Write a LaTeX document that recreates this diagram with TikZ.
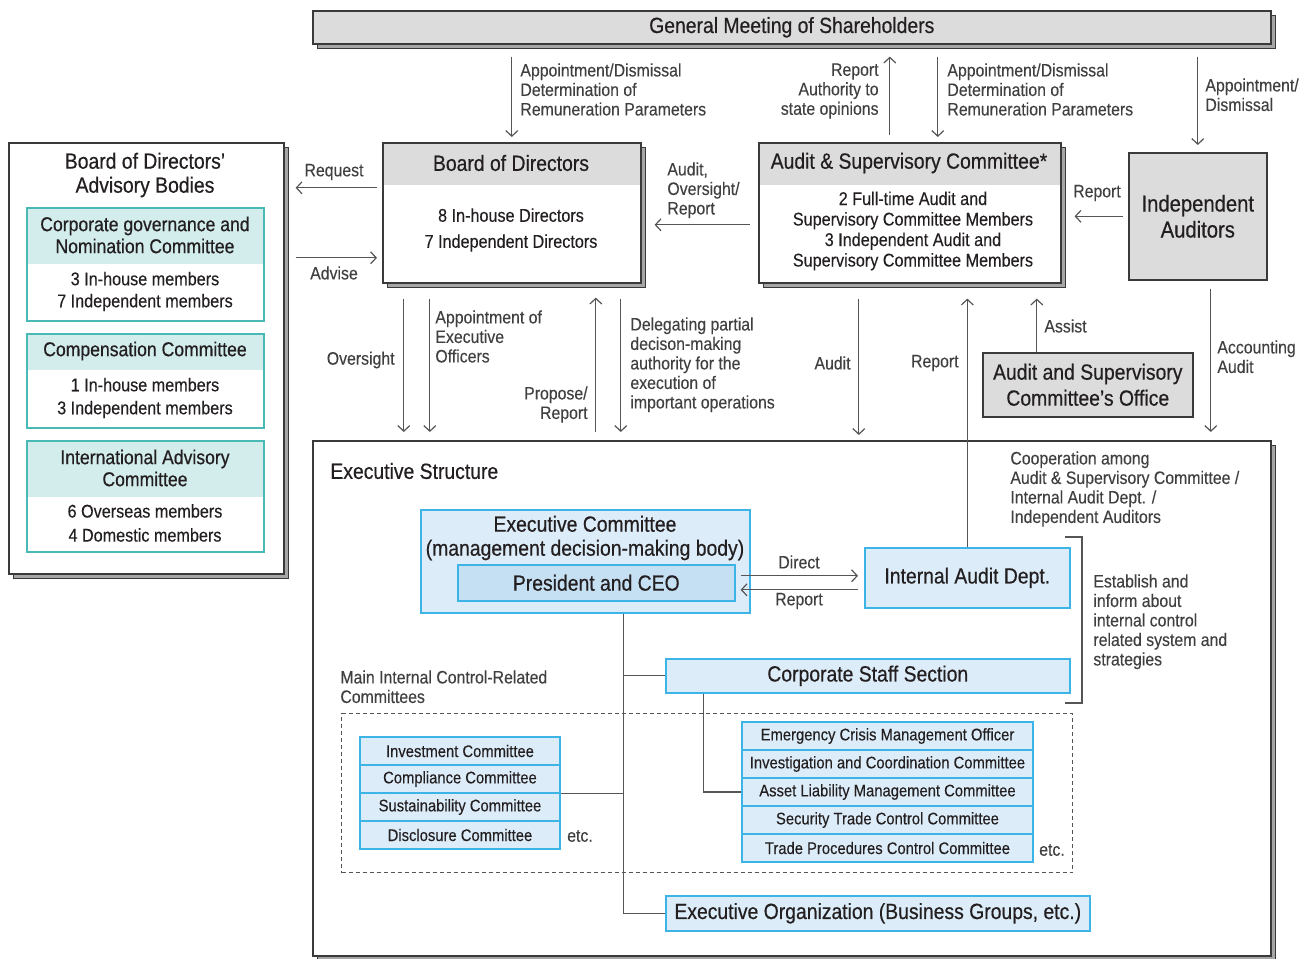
\documentclass[tikz,border=0pt]{standalone}
\usepackage{fontspec}
\setmainfont{Liberation Sans}[FakeStretch=0.88, FakeBold=0.2]
\newfontfamily\headfont{Liberation Sans}[FakeStretch=0.88, FakeBold=0.5]
\usepackage{xcolor}
\usepackage{tikz}
\usetikzlibrary{shapes.geometric, arrows, arrows.meta, shadows}

\definecolor{txtdark}{HTML}{231F20}
\definecolor{lblgray}{HTML}{404040}
\definecolor{linegray}{HTML}{555555}
\definecolor{boxline}{HTML}{3A3A3A}
\definecolor{boxgray}{HTML}{DCDCDC}
\definecolor{shadowgray}{HTML}{A6A6A6}
\definecolor{blueline}{HTML}{3CB4E6}
\definecolor{bluefill}{HTML}{DCECF8}
\definecolor{ceofill}{HTML}{C6E0F3}
\definecolor{tealline}{HTML}{48B9B5}
\definecolor{tealfill}{HTML}{D3ECEC}

\tikzstyle{arrow} = [line width=0.6pt, draw=linegray, -{Straight Barb[length=2.8pt,width=6pt]}]
\tikzstyle{conn} = [line width=0.6pt, draw=linegray]
\tikzstyle{lbl} = [inner sep=0pt, text=lblgray, font=\fontsize{9}{9.75}\selectfont, align=left]
\tikzstyle{titletxt} = [inner sep=0pt, text=txtdark, font=\headfont\fontsize{11}{12}\selectfont, align=center]
\tikzstyle{bodytxt} = [inner sep=0pt, text=txtdark, font=\fontsize{9.2}{11}\selectfont, align=center]
\tikzstyle{shadowbox} = [draw=boxline, line width=0.8pt, fill=white, inner sep=0pt, anchor=north west,
  drop shadow={shadow xshift=2.5pt, shadow yshift=-2.5pt, fill=shadowgray, draw=boxline, line width=0.4pt, opacity=1}]
\tikzstyle{plainbox} = [draw=boxline, line width=0.8pt, fill=boxgray, inner sep=0pt, anchor=north west,
  text=txtdark, font=\headfont\fontsize{11}{13}\selectfont, align=center]
\tikzstyle{bluebox} = [draw=blueline, line width=0.8pt, fill=bluefill, inner sep=0pt, anchor=north west,
  text=txtdark, font=\headfont\fontsize{11}{12}\selectfont, align=center]
\tikzstyle{rowbox} = [draw=blueline, line width=0.8pt, fill=bluefill, inner sep=0pt, minimum height=14pt,
  text=txtdark, font=\fontsize{8.4}{10}\selectfont]
\tikzset{
  hdr/.style={path picture={\fill[boxgray] (path picture bounding box.north west) rectangle ([yshift=-#1]path picture bounding box.north east);}},
  tealbox/.style={draw=tealline, line width=0.8pt, fill=white, inner sep=0pt, anchor=north west, minimum width=118.5pt,
    path picture={\fill[tealfill] (path picture bounding box.north west) rectangle ([yshift=-#1]path picture bounding box.north east);}}
}

\begin{document}
\begin{tikzpicture}[x=0.5pt,y=-0.5pt]
\useasboundingbox (0,0) rectangle (1314,959);

% Shareholders
\node[shadowbox, fill=boxgray, minimum width=479pt, minimum height=16.5pt, titletxt] (gm) at (312,10) {General Meeting of Shareholders};

% Advisory bodies
\node[shadowbox, minimum width=137.5pt, minimum height=215.5pt] (adv) at (8,142) {};
\node[titletxt] (advtitle) at (145,175) {Board of Directors’\\Advisory Bodies};
\node[tealbox=28pt, minimum height=56.5pt] (cgn) at (26,207) {};
\node[titletxt, font=\headfont\fontsize{10}{11}\selectfont] (cgnhead) at (145,235) {Corporate governance and\\Nomination Committee};
\node[bodytxt] (cgnbody) at (145,291.5) {3 In-house members\\7 Independent members};
\node[tealbox=18pt, minimum height=47pt] (comp) at (26,333) {};
\node[titletxt, font=\headfont\fontsize{10}{11}\selectfont] (comphead) at (145,351) {Compensation Committee};
\node[bodytxt, font=\fontsize{9.2}{11.5}\selectfont] (compbody) at (145,398) {1 In-house members\\3 Independent members};
\node[tealbox=28pt, minimum height=55.5pt] (iac) at (26,440) {};
\node[titletxt, font=\headfont\fontsize{10}{11}\selectfont] (iachead) at (145,468) {International Advisory\\Committee};
\node[bodytxt, font=\fontsize{9.2}{12}\selectfont] (iacbody) at (145,523) {6 Overseas members\\4 Domestic members};

% Board and audit committee
\node[shadowbox, hdr=21pt, minimum width=129pt, minimum height=70pt] (bod) at (382,142) {};
\node[titletxt] (bodhead) at (511,163) {Board of Directors};
\node[bodytxt, font=\fontsize{9.2}{13}\selectfont] (bodbody) at (511,230) {8 In-house Directors\\7 Independent Directors};
\node[shadowbox, hdr=21pt, minimum width=151pt, minimum height=70pt] (asc) at (758,142) {};
\node[titletxt] (aschead) at (909,163) {Audit \& Supervisory Committee*};
\node[bodytxt, font=\fontsize{9.2}{10.25}\selectfont] (ascbody) at (913,231) {2 Full-time Audit and\\Supervisory Committee Members\\3 Independent Audit and\\Supervisory Committee Members};
\node[plainbox, minimum width=69pt, minimum height=63.5pt, font=\headfont\fontsize{11.5}{13}\selectfont] (ia) at (1128,152) {Independent\\Auditors};
\node[plainbox, minimum width=105pt, minimum height=32pt] (office) at (982,352) {Audit and Supervisory\\Committee’s Office};

% Executive structure
\node[shadowbox, minimum width=479pt, minimum height=257.5pt] (exec) at (312,440) {};
\node[titletxt, anchor=west] (exectitle) at (330,471) {Executive Structure};
\node[bluebox, minimum width=164.5pt, minimum height=51.5pt] (ecom) at (420,509) {};
\node[titletxt] (ecomtext) at (585,538) {Executive Committee\\(management decision-making body)};
\node[bluebox, fill=ceofill, minimum width=138.5pt, minimum height=18pt] (ceo) at (457,564) {President and CEO};
\node[bluebox, minimum width=102.5pt, minimum height=30pt] (iad) at (864,547) {Internal Audit Dept.};
\node[bluebox, minimum width=202pt, minimum height=17pt] (corp) at (665,658) {Corporate Staff Section};
\node[bluebox, minimum width=212pt, minimum height=17.5pt] (eorg) at (665,895) {Executive Organization (Business Groups, etc.)};
\node[draw=linegray, line width=0.5pt, dash pattern=on 2pt off 1.5pt, minimum width=365.5pt, minimum height=79.5pt, inner sep=0pt, anchor=north west] (ctlarea) at (341,713) {};
\node[lbl, anchor=north west] (ctltitle) at (340,670) {Main Internal Control-Related\\Committees};

\foreach \t [count=\i] in {Investment Committee, Compliance Committee, Sustainability Committee, Disclosure Committee}
{
  \node[rowbox, minimum width=100pt] (lc\i) at (460,723+28*\i) {\t};
}
\foreach \t [count=\i] in {Emergency Crisis Management Officer, Investigation and Coordination Committee, Asset Liability Management Committee, Security Trade Control Committee, Trade Procedures Control Committee}
{
  \node[rowbox, minimum width=145.5pt] (rc\i) at (887.5,708+28*\i) {\t};
}
\node[lbl] (lcetc) at (580,836) {etc.};
\node[lbl] (rcetc) at (1052,850) {etc.};

% Arrows from the shareholders
\draw[arrow, shorten <=6pt, shorten >=2.5pt] (gm.south -| bod.north) -- (bod.north);
\draw[arrow, shorten <=3.5pt, shorten >=6pt] ([xshift=-10pt]asc.north) -- ([xshift=-10pt]asc.north |- gm.south);
\draw[arrow, shorten <=6pt, shorten >=2.5pt] ([xshift=14pt]asc.north |- gm.south) -- ([xshift=14pt]asc.north);
\draw[arrow, shorten <=6pt, shorten >=3.5pt] (gm.south -| ia.north) -- (ia.north);
\node[lbl, anchor=north west] (gmlbla) at (520,63) {Appointment/Dismissal\\Determination of\\Remuneration Parameters};
\node[lbl, anchor=north east, align=right] (gmlblb) at (879,63) {Report\\Authority to\\state opinions};
\node[lbl, anchor=north west] (gmlblc) at (947,63) {Appointment/Dismissal\\Determination of\\Remuneration Parameters};
\node[lbl, anchor=north west] (gmlbld) at (1205,78) {Appointment/\\Dismissal};

% Between the boards
\draw[arrow, shorten <=2.5pt, shorten >=5.5pt] ([yshift=12.5pt]bod.west) -- ([yshift=12.5pt]bod.west -| adv.east);
\draw[arrow, shorten <=5.5pt, shorten >=2.5pt] ([yshift=-22.5pt]bod.west -| adv.east) -- ([yshift=-22.5pt]bod.west);
\draw[arrow, shorten <=4pt, shorten >=6.5pt] ([yshift=-6pt]asc.west) -- ([yshift=-6pt]asc.west -| bod.east);
\draw[arrow, shorten <=2.5pt, shorten >=6.5pt] (ia.west) -- (ia.west -| asc.east);
\node[lbl] (reqlbl) at (334,172) {Request};
\node[lbl] (advlbl) at (334,273) {Advise};
\node[lbl, anchor=north west] (audlbl) at (667,162) {Audit,\\Oversight/\\Report};
\node[lbl] (iarep) at (1097,193) {Report};

% Down to the executive structure
\draw[arrow, shorten <=7.5pt, shorten >=4pt] ([xshift=-54pt]bod.south) -- ([xshift=-54pt]bod.south |- exec.north);
\draw[arrow, shorten <=7.5pt, shorten >=4pt] ([xshift=-41pt]bod.south) -- ([xshift=-41pt]bod.south |- exec.north);
\draw[arrow, shorten <=4pt, shorten >=7pt] ([xshift=42pt]bod.south |- exec.north) -- ([xshift=42pt]bod.south);
\draw[arrow, shorten <=7.5pt, shorten >=4pt] ([xshift=54.5pt]bod.south) -- ([xshift=54.5pt]bod.south |- exec.north);
\draw[arrow, shorten <=7.5pt, shorten >=2.5pt] ([xshift=-25.5pt]asc.south) -- ([xshift=-25.5pt]asc.south |- exec.north);
\draw[arrow, shorten >=7.5pt] (iad.north) -- (iad.north |- asc.south);
\draw[arrow, shorten >=7.5pt] ([xshift=-25.5pt]office.north) -- ([xshift=-25.5pt]office.north |- asc.south);
\draw[arrow, shorten <=4pt, shorten >=4pt] ([xshift=6.5pt]ia.south) -- ([xshift=6.5pt]ia.south |- exec.north);
\node[lbl, anchor=east] (ovlbl) at (395,360) {Oversight};
\node[lbl, anchor=north west] (aeolbl) at (435,310) {Appointment of\\Executive\\Officers};
\node[lbl, anchor=north east, align=right] (prlbl) at (588,386) {Propose/\\Report};
\node[lbl, anchor=north west] (dellbl) at (630,317) {Delegating partial\\decison-making\\authority for the\\execution of\\important operations};
\node[lbl, anchor=east] (exaud) at (851,363) {Audit};
\node[lbl, anchor=east] (exrep) at (959,363) {Report};
\node[lbl, anchor=west] (asslbl) at (1044,326) {Assist};
\node[lbl, anchor=north west] (acclbl) at (1217,340) {Accounting\\Audit};

% Inside the executive structure
\draw[arrow, shorten <=2.5pt, shorten >=3pt] ([yshift=3.5pt]ceo.east) -- ([yshift=3.5pt]ceo.east -| iad.west);
\draw[arrow, shorten <=3pt, shorten >=2.5pt] ([yshift=-3.5pt]ceo.east -| iad.west) -- ([yshift=-3.5pt]ceo.east);
\node[lbl] (dirlbl) at (799,562) {Direct};
\node[lbl] (replbl) at (799,601) {Report};
\coordinate (trunk) at ([xshift=19.25pt]ecom.south);
\draw[conn] (trunk) |- (eorg.west);
\draw[conn] (trunk |- corp.west) -- (corp.west);
\draw[conn] (lc2.south east) -- (lc2.south east -| trunk);
\draw[conn] ([xshift=-82pt]corp.south) |- (rc3.west);
\draw[conn] (1065,537) -- (1082,537) -- (1082,703) -- (1065,703);
\node[lbl, anchor=north west] (cooplbl) at (1010,451) {Cooperation among\\Audit \& Supervisory Committee /\\Internal Audit Dept. /\\Independent Auditors};
\node[lbl, anchor=north west] (estlbl) at (1093,574) {Establish and\\inform about\\internal control\\related system and\\strategies};

\end{tikzpicture}
\end{document}
